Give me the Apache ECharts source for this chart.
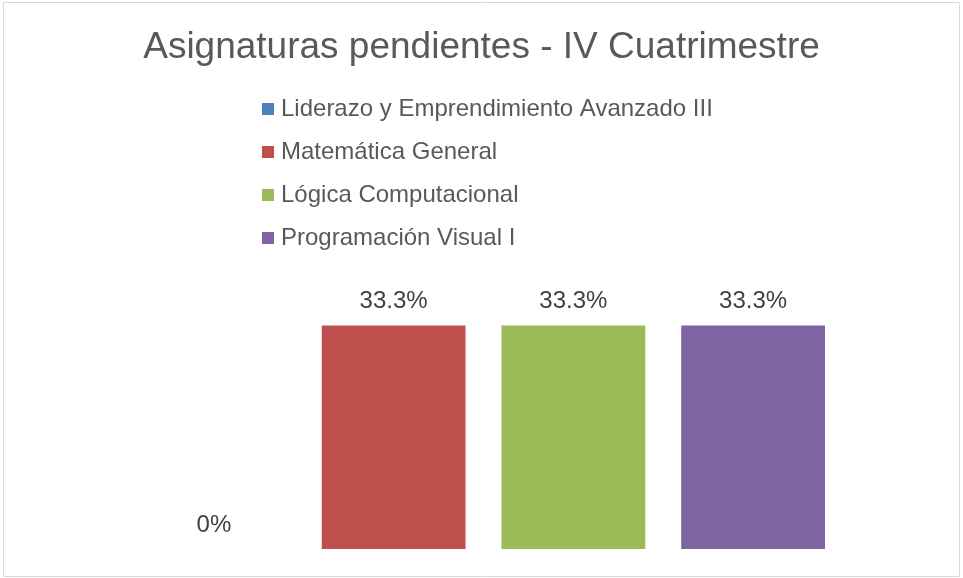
<!DOCTYPE html>
<html><head><meta charset="utf-8">
<script src="https://cdn.jsdelivr.net/npm/echarts@6/dist/echarts.min.js"></script>
<style>html,body{margin:0;padding:0;background:#fff}#c{width:963px;height:578px}</style>
</head><body><div id="c"></div>
<script>
const titleText = 'Asignaturas pendientes - IV Cuatrimestre';
const categories = [''];
const seriesNames = ['Liderazo y Emprendimiento Avanzado III','Matemática General','Lógica Computacional','Programación Visual I'];
const seriesValues = [[0],[33.3],[33.3],[33.3]];
const seriesColors = ['#4f81bd','#c0504d','#9bbb59','#8064a2'];

const chart = echarts.init(document.getElementById('c'), null, {renderer:'canvas'});
const font = 'Liberation Sans, Arial, sans-serif';
chart.setOption({
  animation:false,
  graphic:[{type:'rect',shape:{x:3.5,y:2.5,width:956,height:574},style:{fill:'none',stroke:'#d9d9d9',lineWidth:1}}],
  title:{text:titleText,left:'center',top:24,textStyle:{fontFamily:font,fontSize:37,fontWeight:'normal',color:'#595959'}},
  legend:{orient:'vertical',left:257,top:92,itemWidth:12,itemHeight:12,itemGap:19,icon:'rect',
    textStyle:{fontFamily:font,fontSize:24,color:'#595959',lineHeight:24,padding:[0,0,0,2]},
    data:seriesNames},
  grid:{left:142,width:683,top:314,bottom:29},
  xAxis:{type:'category',data:categories,show:false},
  yAxis:{type:'value',min:0,max:35,show:false},
  series:seriesNames.map((n,i)=>({
    name:n,type:'bar',data:seriesValues[i],barGap:'25%',barCategoryGap:'0%',
    itemStyle:{color:seriesColors[i]},
    label:{show:true,position:'top',distance:12,fontFamily:font,fontSize:24,color:'#404040',
      formatter:p=>p.value+'%'}
  }))
});
</script></body></html>
